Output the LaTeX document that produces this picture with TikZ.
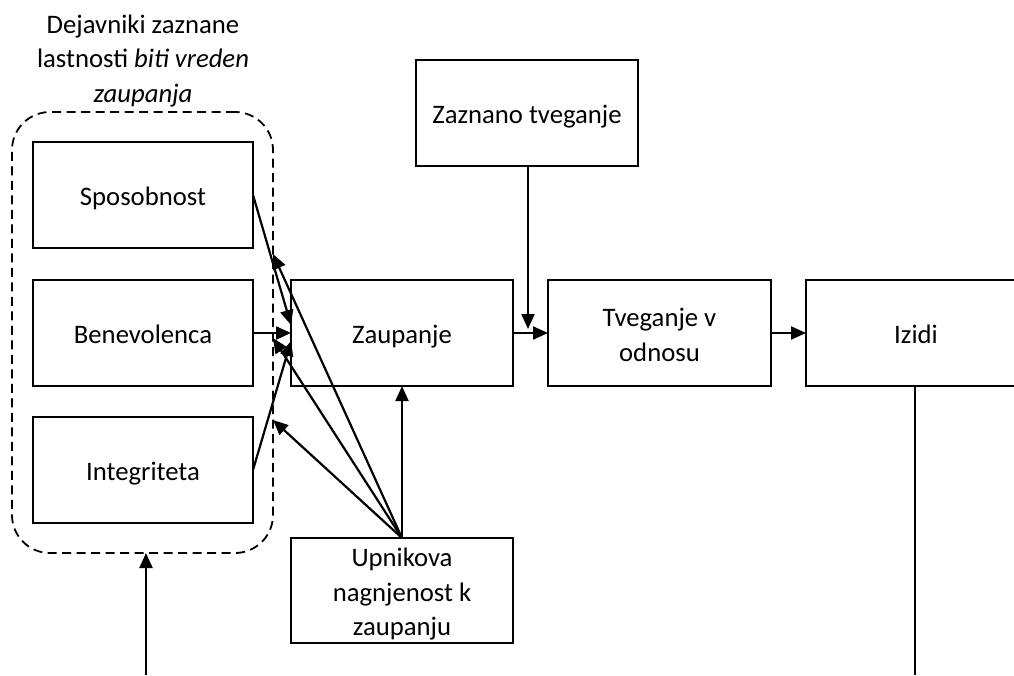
\documentclass[tikz,border=0pt]{standalone}
\usepackage{fontspec}
\setmainfont{Carlito}
\usetikzlibrary{arrows.meta}
% box label, set a little lower than the geometric centre
\newcommand\boxtext[1]{\raisebox{-4pt}[\height][\depth]{\begin{tabular}{@{}c@{}}#1\end{tabular}}}
\begin{document}
\begin{tikzpicture}[x=1pt,y=-1pt,
  every node/.style={font=\fontsize{26.7}{34.5}\selectfont},
  box/.style={draw,line width=2pt,inner sep=0pt,outer sep=0pt,
    minimum width=220pt,minimum height=106pt,align=center},
  group/.style={draw,dash pattern=on 9pt off 5.5pt,line width=1.8pt,
    rounded corners=38pt,inner sep=0pt,outer sep=0pt,
    minimum width=261pt,minimum height=441pt},
  conn/.style={line width=2.2pt,-{Triangle[length=15pt,width=13pt]}},
  plain/.style={line width=2.4pt}]
\useasboundingbox (0,0) rectangle (1014,675);

% group of trustworthiness factors
\node[group] (grp) at (142.5,332.5) {};
\node[align=center] (title) at (143,61) {Dejavniki zaznane\\lastnosti \textit{biti vreden}\\\textit{zaupanja}};

\node[box] (sp) at (143,195) {\boxtext{Sposobnost}};
\node[box] (ben) at (143,333) {\boxtext{Benevolenca}};
\node[box] (int) at (143,470) {\boxtext{Integriteta}};

\node[box,minimum width=222pt] (zau) at (402,333) {\boxtext{Zaupanje}};
\node[box,minimum width=223pt] (tve) at (659.5,333) {\boxtext{Tveganje v\\odnosu}};
\node[box] (izi) at (916,333) {\boxtext{Izidi}};
\node[box,minimum width=222pt] (zaz) at (527,113) {\boxtext{Zaznano tveganje}};
\node[box,minimum width=222pt,minimum height=105pt] (upn) at (402,590.5) {\boxtext{Upnikova\\nagnjenost k\\zaupanju}};

% arrow targets
\coordinate (zin1) at (291,325);
\coordinate (zin2) at (291,333);
\coordinate (zin3) at (291,341);
\coordinate (gsp) at (273,254);
\coordinate (gben) at (273,338);
\coordinate (gint) at (273,420);
\coordinate (risk) at (528,329);
\coordinate (bot1) at (146,675);
\coordinate (bot2) at (915,675);

% factors into trust
\draw[conn] (sp.east) -- (zin1);
\draw[conn] (ben.east) -- (zin2);
\draw[conn] (int.east) -- (zin3);

% propensity to trust
\draw[conn] (upn.north) -- (gsp);
\draw[conn] (upn.north) -- (gben);
\draw[conn] (upn.north) -- (gint);
\draw[conn] (upn.north) -- (zau.south);

% main chain
\draw[conn] (zau.east) -- (tve.west);
\draw[conn] (tve.east) -- (izi.west);
\draw[conn] (zaz.south -| risk) -- (risk);

% feedback lines
\draw[plain] (izi.south -| bot2) -- (bot2);
\draw[conn] (bot1) -- (grp.south -| bot1);
\end{tikzpicture}
\end{document}
